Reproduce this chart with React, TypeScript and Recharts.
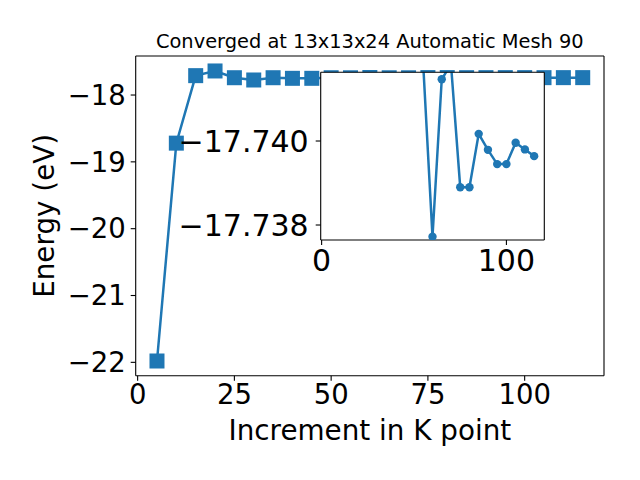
import React from 'react';
import { LineChart, Line, XAxis, YAxis, ReferenceLine, CartesianGrid } from 'recharts';

const kPoints = [5, 10, 15, 20, 25, 30, 35, 40, 45, 50, 55, 60, 65, 70, 75, 80, 85, 90, 95, 100, 105, 110, 115];
const energy = [
  -21.98, -18.72, -17.71, -17.64, -17.741, -17.775, -17.741, -17.75, -17.75, -17.741,
  -17.7418, -17.7377, -17.7415, -17.7418, -17.7389, -17.7389, -17.7402, -17.7398, -17.7395,
  -17.7395, -17.74, -17.7398, -17.7396,
];
const insetKPoints = [55, 60, 65, 70, 75, 80, 85, 90, 95, 100, 105, 110, 115];
const insetEnergy = [
  -17.7418, -17.73772, -17.74147, -17.74183, -17.7389, -17.7389, -17.74017, -17.73979,
  -17.73945, -17.73945, -17.73996, -17.7398, -17.73964,
];
const mainXTicks = [0, 25, 50, 75, 100];
const mainYTicks = [-22, -21, -20, -19, -18];
const insetXTicks = [0, 100];
const insetYTicks = [-17.74, -17.738];
const title = 'Converged at 13x13x24 Automatic Mesh 90';
const xLabel = 'Increment in K point';
const yLabel = 'Energy (eV)';

const X_DOMAIN: [number, number] = [-0.5, 120.5];
const MAIN_Y_DOMAIN: [number, number] = [-22.2, -17.416];
const INSET_Y_DOMAIN: [number, number] = [-17.741636, -17.737643];

const mainData = kPoints.map((k, i) => ({ k, e: energy[i] }));
const insetData = insetKPoints.map((k, i) => ({ k, e: insetEnergy[i] }));

const BLUE = '#1f77b4';
const FONT = 'DejaVu Sans';
const minus = (s: string) => s.replace('-', '\u2212');

const SquareDot = (props: any) => {
  const { cx, cy, index } = props;
  if (cx == null || cy == null) return <g key={`sq-${index}`} />;
  return <rect key={`sq-${index}`} x={cx - 7.5} y={cy - 7.5} width={15} height={15} fill={BLUE} />;
};

export default function App() {
  const mainTick = { fontSize: 27.5, fill: '#000', fontFamily: FONT };
  const insetTick = { fontSize: 30, fill: '#000', fontFamily: FONT };
  return (
    <div style={{ position: 'fixed', left: 0, top: 0, width: 640, height: 480, background: '#fff' }}>
      <div style={{ position: 'absolute', left: 0, top: 0 }}>
        <LineChart width={640} height={480} data={mainData} margin={{ top: 56, right: 36, bottom: 0, left: 0 }}>
          <XAxis
            dataKey="k"
            type="number"
            domain={X_DOMAIN}
            allowDataOverflow
            ticks={mainXTicks}
            interval={0}
            height={104.3}
            tick={mainTick}
            tickSize={5}
            tickMargin={4}
            axisLine={{ stroke: '#000', strokeWidth: 1.1 }}
            tickLine={{ stroke: '#000', strokeWidth: 1.1 }}
            label={{ value: xLabel, position: 'insideBottom', offset: 40, style: { fontSize: 27.8, fill: '#000', fontFamily: FONT } }}
          />
          <YAxis
            type="number"
            domain={MAIN_Y_DOMAIN}
            allowDataOverflow
            ticks={mainYTicks}
            interval={0}
            width={135.7}
            tick={mainTick}
            tickFormatter={(v: number) => minus(String(v))}
            tickSize={5}
            tickMargin={5}
            axisLine={{ stroke: '#000', strokeWidth: 1.1 }}
            tickLine={{ stroke: '#000', strokeWidth: 1.1 }}
            label={{ value: yLabel, angle: -90, position: 'insideLeft', offset: 44, style: { fontSize: 27.8, fill: '#000', fontFamily: FONT, textAnchor: 'middle' } }}
          />
          <Line dataKey="e" stroke={BLUE} strokeWidth={2.5} dot={SquareDot} isAnimationActive={false} />
          <ReferenceLine
            y={MAIN_Y_DOMAIN[1]}
            stroke="#000"
            strokeWidth={1.1}
            label={{ value: title, position: 'top', offset: 8, style: { fontSize: 19.4, fill: '#000', fontFamily: FONT } }}
          />
          <ReferenceLine x={X_DOMAIN[1]} stroke="#000" strokeWidth={1.1} />
        </LineChart>
      </div>
      <div style={{ position: 'absolute', left: 0, top: 0 }}>
        <LineChart width={640} height={480} data={insetData} margin={{ top: 72.3, right: 95.7, bottom: 0, left: 0 }}>
          <CartesianGrid fill="#ffffff" horizontal={false} vertical={false} stroke="none" />
          <XAxis
            dataKey="k"
            type="number"
            domain={X_DOMAIN}
            allowDataOverflow
            ticks={insetXTicks}
            interval={0}
            height={240}
            tick={insetTick}
            tickSize={5}
            tickMargin={5}
            axisLine={{ stroke: '#000', strokeWidth: 1.1 }}
            tickLine={{ stroke: '#000', strokeWidth: 1.1 }}
          />
          <YAxis
            type="number"
            reversed
            domain={INSET_Y_DOMAIN}
            allowDataOverflow
            ticks={insetYTicks}
            interval={0}
            width={320.7}
            tick={insetTick}
            tickFormatter={(v: number) => minus(v.toFixed(3))}
            tickSize={5}
            tickMargin={7}
            axisLine={{ stroke: '#000', strokeWidth: 1.1 }}
            tickLine={{ stroke: '#000', strokeWidth: 1.1 }}
          />
          <Line dataKey="e" stroke={BLUE} strokeWidth={2.5} dot={{ r: 4.2, fill: BLUE, stroke: BLUE, strokeWidth: 0 }} isAnimationActive={false} />
          <ReferenceLine y={INSET_Y_DOMAIN[0]} stroke="#000" strokeWidth={1.1} />
          <ReferenceLine x={X_DOMAIN[1]} stroke="#000" strokeWidth={1.1} />
        </LineChart>
      </div>
    </div>
  );
}
